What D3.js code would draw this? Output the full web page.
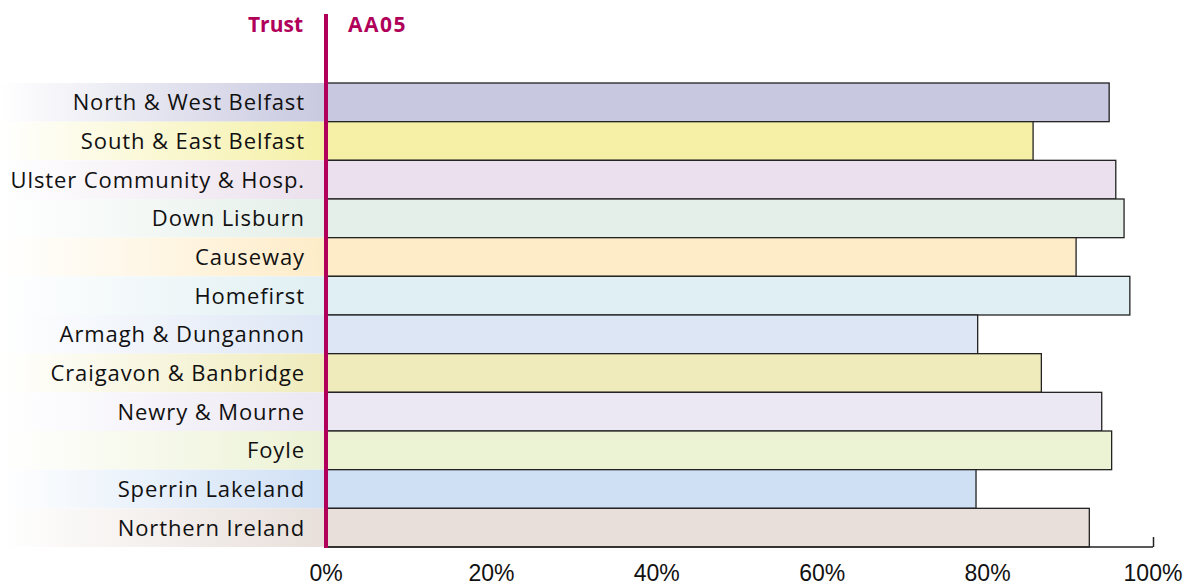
<!DOCTYPE html>
<html>
<head>
<meta charset="utf-8">
<script src="https://cdn.jsdelivr.net/npm/d3@7"></script>
<style>
  body { margin: 0; background: #fff; }
  svg { display: block; }
</style>
</head>
<body>
<div id="chart"></div>
<script>
// data
var trusts = ["North & West Belfast", "South & East Belfast", "Ulster Community & Hosp.",
  "Down Lisburn", "Causeway", "Homefirst", "Armagh & Dungannon", "Craigavon & Banbridge",
  "Newry & Mourne", "Foyle", "Sperrin Lakeland", "Northern Ireland"];
var values = [94.7, 85.5, 95.5, 96.5, 90.7, 97.2, 78.8, 86.5, 93.8, 95.0, 78.6, 92.3];
var colours = ["#c8c8e0", "#f5f0a5", "#ebe0ed", "#e4efe9", "#feecc8", "#e0eff3",
  "#dde6f5", "#efebbb", "#ebe7f3", "#ecf2d4", "#cfe0f5", "#e8dfda"];
var tickValues = [0, 20, 40, 60, 80, 100];

var W = 1185, H = 586;
var margin = {top: 83, right: 32, bottom: 39, left: 326},
    width = W - margin.left - margin.right,
    height = H - margin.top - margin.bottom;
var magenta = "#b0005a";

var svg = d3.select("#chart").append("svg")
    .attr("width", W)
    .attr("height", H);

var defs = svg.append("defs");
colours.forEach(function(c, i) {
  var g = defs.append("linearGradient").attr("id", "grad" + i)
      .attr("x1", "0%").attr("x2", "100%").attr("y1", "0%").attr("y2", "0%");
  g.append("stop").attr("offset", "0%").attr("stop-color", "#fff");
  g.append("stop").attr("offset", "100%").attr("stop-color", c);
});

var g = svg.append("g")
    .attr("transform", "translate(" + margin.left + "," + margin.top + ")");

var x = d3.scaleLinear().domain([0, 100]).range([0, width]);
var y = d3.scaleBand().domain(trusts).range([0, height]).padding(0);

// label backgrounds
g.selectAll(".labelbg")
  .data(trusts)
  .enter().append("rect")
    .attr("x", -margin.left)
    .attr("y", function(d) { return y(d); })
    .attr("width", margin.left)
    .attr("height", y.bandwidth())
    .attr("fill", function(d, i) { return "url(#grad" + i + ")"; });

// bars
g.selectAll(".bar")
  .data(values)
  .enter().append("rect")
    .attr("x", x(0))
    .attr("y", function(d, i) { return y(trusts[i]); })
    .attr("width", function(d) { return x(d) - x(0); })
    .attr("height", y.bandwidth())
    .attr("fill", function(d, i) { return colours[i]; })
    .attr("stroke", "#222")
    .attr("stroke-width", 1.3);

// labels
g.selectAll(".label")
  .data(trusts)
  .enter().append("text")
    .attr("x", -21)
    .attr("y", function(d) { return y(d) + y.bandwidth() / 2; })
    .attr("dy", "0.36em")
    .attr("text-anchor", "end")
    .style("font-family", "'Open Sans', sans-serif")
    .style("font-size", "22px")
    .style("letter-spacing", "0.9px")
    .style("fill", "#111")
    .text(function(d) { return d; });

// x axis
var xAxis = g.append("g")
    .attr("transform", "translate(0," + height + ")")
    .call(d3.axisBottom(x).tickValues([100]).tickSize(-10).tickFormat(""));
xAxis.select(".domain").attr("stroke", "#222").attr("stroke-width", 1.5)
    .attr("d", "M0,0H" + width);
xAxis.selectAll(".tick line").attr("stroke", "#222").attr("stroke-width", 1.5);

g.append("g").selectAll("text")
  .data(tickValues)
  .enter().append("text")
    .attr("x", function(d) { return x(d); })
    .attr("y", height + 34)
    .attr("text-anchor", "middle")
    .style("font-family", "'Liberation Sans Narrow', 'Liberation Sans', sans-serif")
    .style("font-size", "23px")
    .style("fill", "#111")
    .text(function(d) { return d + "%"; });

// magenta divider and headings
svg.append("line")
    .attr("x1", margin.left).attr("x2", margin.left)
    .attr("y1", 14).attr("y2", margin.top + height + 1)
    .attr("stroke", magenta).attr("stroke-width", 4);

svg.append("text")
    .attr("x", 303).attr("y", 32)
    .attr("text-anchor", "end")
    .style("font-family", "'Open Sans', sans-serif")
    .style("font-weight", "bold")
    .style("font-size", "21px")
    .style("fill", magenta)
    .text("Trust");

svg.append("text")
    .attr("x", 348).attr("y", 32)
    .style("font-family", "'Open Sans', sans-serif")
    .style("font-weight", "bold")
    .style("font-size", "21px")
    .style("letter-spacing", "1.5px")
    .style("fill", magenta)
    .text("AA05");
</script>
</body>
</html>
